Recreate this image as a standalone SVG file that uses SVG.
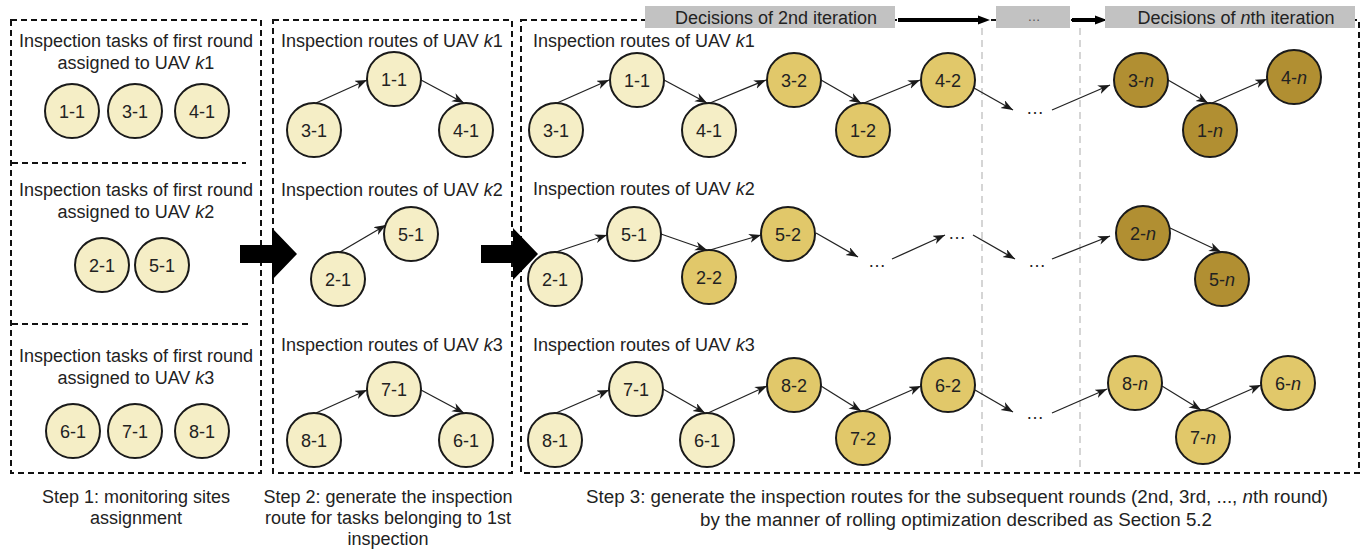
<svg xmlns="http://www.w3.org/2000/svg" width="1364" height="552" viewBox="0 0 1364 552">
  <defs>
    <marker id="ah" markerUnits="userSpaceOnUse" markerWidth="13" markerHeight="10" refX="12" refY="4.5" orient="auto">
      <path d="M0,0 L12,4.5 L0,9 L3.5,4.5 Z" fill="#1a1a1a"/>
    </marker>
    <style>
      text { font-family: "Liberation Sans", Arial, sans-serif; font-size: 18px; fill: #222; }
      .mid { text-anchor: middle; }
      .box { fill: none; stroke: #111; stroke-width: 2; stroke-dasharray: 6 4; }
      .sep { fill: none; stroke: #c8c8c8; stroke-width: 1.5; stroke-dasharray: 7 5; }
      .node circle { stroke: #1a1a1a; stroke-width: 2; }
      .node text { text-anchor: middle; }
      .c1 circle { fill: #f5eec6; }
      .c2 circle { fill: #e1c86a; }
      .c3 circle { fill: #b18f32; }
      .edge line { stroke: #222; stroke-width: 1.3; marker-end: url(#ah); }
      .hdr rect { fill: #c2c2c2; }
      .it { font-style: italic; }
    </style>
  </defs>
  <rect width="1364" height="552" fill="#fff"/>

  <!-- frames -->
  <g id="frames">
    <rect class="box" x="11" y="20" width="250" height="453"/>
    <line class="box" x1="12" y1="163" x2="246" y2="163"/>
    <line class="box" x1="12" y1="324" x2="250" y2="324"/>
    <rect class="box" x="273" y="20" width="239" height="453"/>
    <rect class="box" x="521" y="20" width="838" height="453"/>
    <line class="sep" x1="982" y1="28" x2="982" y2="472"/>
    <line class="sep" x1="1080" y1="28" x2="1080" y2="472"/>
  </g>

  <!-- iteration header -->
  <g id="header" class="hdr">
    <rect x="645" y="6" width="250" height="22"/>
    <text class="mid" x="776" y="24">Decisions of 2nd iteration</text>
    <line x1="898" y1="20" x2="980" y2="20" stroke="#000" stroke-width="4"/>
    <polygon points="978,15.5 990,20 978,24.5" fill="#000"/>
    <rect x="996" y="6" width="74" height="22"/>
    <text class="mid" x="1034" y="21" style="font-size:13px;fill:#555">…</text>
    <line x1="1072" y1="20" x2="1097" y2="20" stroke="#000" stroke-width="4"/>
    <polygon points="1095,15.5 1107,20 1095,24.5" fill="#000"/>
    <rect x="1105" y="6" width="250" height="22"/>
    <text class="mid" x="1236" y="24">Decisions of <tspan class="it">n</tspan>th iteration</text>
  </g>

  <!-- step arrows -->
  <g id="step-arrows" fill="#000">
    <polygon points="240,245 272,245 272,228 297,254 272,280 272,263 240,263"/>
    <polygon points="481,245 513,245 513,228 538,254 513,280 513,263 481,263"/>
  </g>

  <!-- titles -->
  <g id="titles">
    <text class="mid" x="136" y="47">Inspection tasks of first round</text>
    <text class="mid" x="136" y="69">assigned to UAV <tspan class="it">k</tspan>1</text>
    <text class="mid" x="136" y="196">Inspection tasks of first round</text>
    <text class="mid" x="136" y="218">assigned to UAV <tspan class="it">k</tspan>2</text>
    <text class="mid" x="136" y="362">Inspection tasks of first round</text>
    <text class="mid" x="136" y="384">assigned to UAV <tspan class="it">k</tspan>3</text>
    <text x="281" y="47">Inspection routes of UAV <tspan class="it">k</tspan>1</text>
    <text x="281" y="196">Inspection routes of UAV <tspan class="it">k</tspan>2</text>
    <text x="281" y="351">Inspection routes of UAV <tspan class="it">k</tspan>3</text>
    <text x="533" y="47">Inspection routes of UAV <tspan class="it">k</tspan>1</text>
    <text x="533" y="195">Inspection routes of UAV <tspan class="it">k</tspan>2</text>
    <text x="533" y="351">Inspection routes of UAV <tspan class="it">k</tspan>3</text>
  </g>

  <!-- connectors -->
  <g id="connectors" class="edge">
    <line x1="316" y1="103" x2="367" y2="80"/>
    <line x1="421" y1="80" x2="464" y2="103"/>
    <line x1="340" y1="252" x2="386" y2="225"/>
    <line x1="316" y1="413" x2="367" y2="390"/>
    <line x1="421" y1="390" x2="464" y2="413"/>

    <line x1="557" y1="103" x2="609" y2="80"/>
    <line x1="664" y1="80" x2="707" y2="103"/>
    <line x1="710" y1="103" x2="766" y2="80"/>
    <line x1="821" y1="80" x2="861" y2="103"/>
    <line x1="864" y1="103" x2="920" y2="80"/>
    <line x1="974" y1="88" x2="1013" y2="110"/>
    <line x1="1052" y1="110" x2="1110" y2="85"/>
    <line x1="1168" y1="80" x2="1208" y2="103"/>
    <line x1="1212" y1="103" x2="1267" y2="79"/>

    <line x1="556" y1="252" x2="607" y2="235"/>
    <line x1="661" y1="234" x2="707" y2="250"/>
    <line x1="710" y1="250" x2="761" y2="235"/>
    <line x1="816" y1="233" x2="858" y2="257"/>
    <line x1="892" y1="259" x2="945" y2="235"/>
    <line x1="973" y1="235" x2="1015" y2="259"/>
    <line x1="1052" y1="259" x2="1110" y2="236"/>
    <line x1="1170" y1="228" x2="1221" y2="252"/>

    <line x1="556" y1="413" x2="609" y2="390"/>
    <line x1="663" y1="389" x2="705" y2="413"/>
    <line x1="708" y1="413" x2="767" y2="386"/>
    <line x1="821" y1="386" x2="861" y2="411"/>
    <line x1="864" y1="411" x2="921" y2="386"/>
    <line x1="975" y1="390" x2="1013" y2="412"/>
    <line x1="1052" y1="413" x2="1107" y2="389"/>
    <line x1="1162" y1="386" x2="1201" y2="410"/>
    <line x1="1204" y1="410" x2="1261" y2="385"/>
  </g>

  <!-- ellipses standing for omitted rounds -->
  <g id="gaps">
    <text class="mid" x="1035" y="114">…</text>
    <text class="mid" x="877" y="267">…</text>
    <text class="mid" x="957" y="239">…</text>
    <text class="mid" x="1037" y="267">…</text>
    <text class="mid" x="1035" y="419">…</text>
  </g>

  <!-- step 1 nodes -->
  <g id="s1-k1-1-1" class="node c1"><circle cx="72" cy="111" r="27"/><text x="72" y="117.5">1-1</text></g>
  <g id="s1-k1-3-1" class="node c1"><circle cx="135" cy="111" r="27"/><text x="135" y="117.5">3-1</text></g>
  <g id="s1-k1-4-1" class="node c1"><circle cx="202" cy="111" r="27"/><text x="202" y="117.5">4-1</text></g>
  <g id="s1-k2-2-1" class="node c1"><circle cx="102" cy="265" r="27"/><text x="102" y="271.5">2-1</text></g>
  <g id="s1-k2-5-1" class="node c1"><circle cx="162" cy="265" r="27"/><text x="162" y="271.5">5-1</text></g>
  <g id="s1-k3-6-1" class="node c1"><circle cx="73" cy="431" r="27"/><text x="73" y="437.5">6-1</text></g>
  <g id="s1-k3-7-1" class="node c1"><circle cx="135" cy="431" r="27"/><text x="135" y="437.5">7-1</text></g>
  <g id="s1-k3-8-1" class="node c1"><circle cx="202" cy="431" r="27"/><text x="202" y="437.5">8-1</text></g>

  <!-- step 2 nodes -->
  <g id="s2-k1-3-1" class="node c1"><circle cx="314" cy="130" r="27"/><text x="314" y="136.5">3-1</text></g>
  <g id="s2-k1-1-1" class="node c1"><circle cx="394" cy="79" r="27"/><text x="394" y="85.5">1-1</text></g>
  <g id="s2-k1-4-1" class="node c1"><circle cx="466" cy="130" r="27"/><text x="466" y="136.5">4-1</text></g>
  <g id="s2-k2-2-1" class="node c1"><circle cx="338" cy="279" r="27"/><text x="338" y="285.5">2-1</text></g>
  <g id="s2-k2-5-1" class="node c1"><circle cx="411" cy="234" r="27"/><text x="411" y="240.5">5-1</text></g>
  <g id="s2-k3-8-1" class="node c1"><circle cx="314" cy="440" r="27"/><text x="314" y="446.5">8-1</text></g>
  <g id="s2-k3-7-1" class="node c1"><circle cx="394" cy="389" r="27"/><text x="394" y="395.5">7-1</text></g>
  <g id="s2-k3-6-1" class="node c1"><circle cx="466" cy="440" r="27"/><text x="466" y="446.5">6-1</text></g>

  <!-- step 3, UAV k1 -->
  <g id="s3-k1-3-1" class="node c1"><circle cx="556" cy="130" r="27"/><text x="556" y="136.5">3-1</text></g>
  <g id="s3-k1-1-1" class="node c1"><circle cx="637" cy="80" r="27"/><text x="637" y="86.5">1-1</text></g>
  <g id="s3-k1-4-1" class="node c1"><circle cx="709" cy="130" r="27"/><text x="709" y="136.5">4-1</text></g>
  <g id="s3-k1-3-2" class="node c2"><circle cx="794" cy="80" r="27"/><text x="794" y="86.5">3-2</text></g>
  <g id="s3-k1-1-2" class="node c2"><circle cx="863" cy="130" r="27"/><text x="863" y="136.5">1-2</text></g>
  <g id="s3-k1-4-2" class="node c2"><circle cx="948" cy="80" r="27"/><text x="948" y="86.5">4-2</text></g>
  <g id="s3-k1-3-n" class="node c3"><circle cx="1141" cy="80" r="27"/><text x="1141" y="86.5">3-<tspan class="it">n</tspan></text></g>
  <g id="s3-k1-1-n" class="node c3"><circle cx="1210" cy="130" r="27"/><text x="1210" y="136.5">1-<tspan class="it">n</tspan></text></g>
  <g id="s3-k1-4-n" class="node c3"><circle cx="1294" cy="77" r="27"/><text x="1294" y="83.5">4-<tspan class="it">n</tspan></text></g>

  <!-- step 3, UAV k2 -->
  <g id="s3-k2-2-1" class="node c1"><circle cx="555" cy="279" r="27"/><text x="555" y="285.5">2-1</text></g>
  <g id="s3-k2-5-1" class="node c1"><circle cx="634" cy="234" r="27"/><text x="634" y="240.5">5-1</text></g>
  <g id="s3-k2-2-2" class="node c2"><circle cx="709" cy="277" r="27"/><text x="709" y="283.5">2-2</text></g>
  <g id="s3-k2-5-2" class="node c2"><circle cx="788" cy="234" r="27"/><text x="788" y="240.5">5-2</text></g>
  <g id="s3-k2-2-n" class="node c3"><circle cx="1143" cy="233" r="27"/><text x="1143" y="239.5">2-<tspan class="it">n</tspan></text></g>
  <g id="s3-k2-5-n" class="node c3"><circle cx="1222" cy="279" r="27"/><text x="1222" y="285.5">5-<tspan class="it">n</tspan></text></g>

  <!-- step 3, UAV k3 -->
  <g id="s3-k3-8-1" class="node c1"><circle cx="555" cy="440" r="27"/><text x="555" y="446.5">8-1</text></g>
  <g id="s3-k3-7-1" class="node c1"><circle cx="636" cy="389" r="27"/><text x="636" y="395.5">7-1</text></g>
  <g id="s3-k3-6-1" class="node c1"><circle cx="707" cy="440" r="27"/><text x="707" y="446.5">6-1</text></g>
  <g id="s3-k3-8-2" class="node c2"><circle cx="794" cy="385" r="27"/><text x="794" y="391.5">8-2</text></g>
  <g id="s3-k3-7-2" class="node c2"><circle cx="863" cy="438" r="27"/><text x="863" y="444.5">7-2</text></g>
  <g id="s3-k3-6-2" class="node c2"><circle cx="948" cy="385" r="27"/><text x="948" y="391.5">6-2</text></g>
  <g id="s3-k3-8-n" class="node c2"><circle cx="1135" cy="383" r="27"/><text x="1135" y="389.5">8-<tspan class="it">n</tspan></text></g>
  <g id="s3-k3-7-n" class="node c2"><circle cx="1203" cy="437" r="27"/><text x="1203" y="443.5">7-<tspan class="it">n</tspan></text></g>
  <g id="s3-k3-6-n" class="node c2"><circle cx="1288" cy="383" r="27"/><text x="1288" y="389.5">6-<tspan class="it">n</tspan></text></g>

  <!-- step captions -->
  <g id="captions">
    <text class="mid" x="136" y="503">Step 1: monitoring sites</text>
    <text class="mid" x="136" y="524">assignment</text>
    <text class="mid" x="388" y="503">Step 2: generate the inspection</text>
    <text class="mid" x="388" y="524">route for tasks belonging to 1st</text>
    <text class="mid" x="388" y="545">inspection</text>
    <text class="mid" x="957" y="503" textLength="742" lengthAdjust="spacingAndGlyphs">Step 3: generate the inspection routes for the subsequent rounds (2nd, 3rd, ..., <tspan class="it">n</tspan>th round)</text>
    <text class="mid" x="956" y="526" textLength="512" lengthAdjust="spacingAndGlyphs">by the manner of rolling optimization described as Section 5.2</text>
  </g>
</svg>
